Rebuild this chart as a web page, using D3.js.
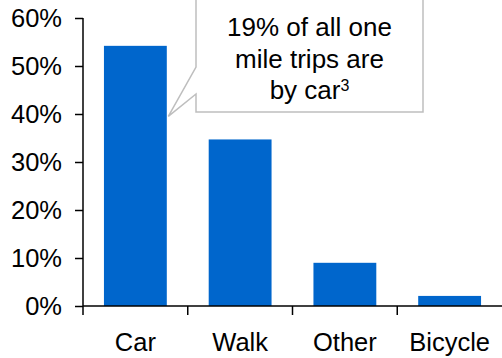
<!DOCTYPE html>
<html><head><meta charset="utf-8">
<script src="https://cdn.jsdelivr.net/npm/d3@7"></script>
<style>
html,body{margin:0;padding:0;background:#fff;}
svg{display:block;font-family:"Liberation Sans",Arial,sans-serif;}
</style></head>
<body>
<script>
const categories = ["Car", "Walk", "Other", "Bicycle"];
const shares = [0.542, 0.347, 0.090, 0.021];
const yTicks = [0, 0.1, 0.2, 0.3, 0.4, 0.5, 0.6];
const calloutLines = ["19% of all one", "mile trips are", "by car"];
const calloutSup = "3";
const calloutTarget = {cat: "Car", value: 0.395};

const W = 502, H = 358;
const svg = d3.select("body").append("svg").attr("width", W).attr("height", H);

const x = d3.scaleBand().domain(categories).range([83, 502]).paddingInner(0.4).paddingOuter(0.2);
const y = d3.scaleLinear().domain([0, 0.6]).range([306, 18]);

// bars
svg.append("g").selectAll("rect").data(categories).join("rect")
  .attr("x", d => x(d)).attr("width", x.bandwidth())
  .attr("y", (d,i) => y(shares[i])).attr("height", (d,i) => y(0) - y(shares[i]))
  .attr("fill", "#0066CC");

// y axis
const ya = svg.append("g").attr("transform", "translate(83,0)")
  .call(d3.axisLeft(y).tickValues(yTicks).tickFormat(d3.format(".0%")).tickSize(8).tickPadding(13).tickSizeOuter(0));
ya.select(".domain").remove();
ya.selectAll("line").attr("stroke", "#000").attr("stroke-width", 1.5);
ya.selectAll("text").attr("font-size", 25.5).attr("fill", "#000").attr("font-family", "Liberation Sans, Arial, sans-serif");
svg.append("line").attr("x1", 83).attr("x2", 83).attr("y1", y(0.6)).attr("y2", y(0) + 9)
  .attr("stroke", "#000").attr("stroke-width", 1.5);

// x axis
const xa = svg.append("g").attr("transform", `translate(0,${y(0)})`)
  .call(d3.axisBottom(x).tickSize(0).tickPadding(27));
xa.select(".domain").remove();
xa.selectAll("text").attr("font-size", 25.5).attr("fill", "#000").attr("font-family", "Liberation Sans, Arial, sans-serif");
svg.append("line").attr("x1", 83).attr("x2", W).attr("y1", y(0)).attr("y2", y(0))
  .attr("stroke", "#000").attr("stroke-width", 1.5);
svg.append("g").selectAll("line").data(d3.range(1, categories.length)).join("line")
  .attr("x1", i => x.range()[0] + i * x.step()).attr("x2", i => x.range()[0] + i * x.step())
  .attr("y1", y(0)).attr("y2", y(0) + 9).attr("stroke", "#000").attr("stroke-width", 1.5);

// callout
const tipX = x(calloutTarget.cat) + x.bandwidth() + 1.5;
const tipY = y(calloutTarget.value);
const bx0 = 196, bx1 = 423, by0 = -2, by1 = 112;
svg.append("path")
  .attr("d", `M${bx0},${by0} L${bx1},${by0} L${bx1},${by1} L${bx0},${by1} L${bx0},94 L${tipX},${tipY} L${bx0},67 Z`)
  .attr("fill", "#fff").attr("stroke", "#BEBEBE").attr("stroke-width", 1.5);
const cx = (bx0 + bx1) / 2;
const t = svg.append("g").attr("font-size", 26).attr("fill", "#000").attr("text-anchor", "middle");
calloutLines.forEach((line, i) => {
  const tx = t.append("text").attr("x", cx).attr("y", 36 + i * 31.5).text(line);
  if (i === calloutLines.length - 1) {
    tx.append("tspan").attr("font-size", 16).attr("dy", -8).text(calloutSup);
  }
});
</script>
</body></html>
